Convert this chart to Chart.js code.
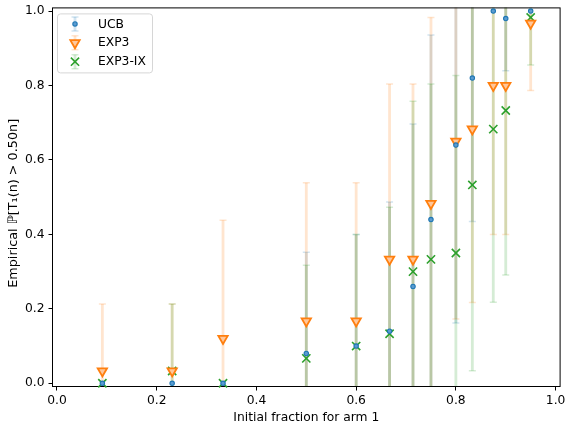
<!DOCTYPE html>
<html>
<head>
<meta charset="utf-8">
<script src="https://cdn.jsdelivr.net/npm/chart.js"></script>
<style>
  body { margin: 0; background: #fff; }
</style>
</head>
<body>
<canvas id="grafico" width="568" height="426"></canvas>
<script>
// initial fraction for arm 1 (x positions)
const fracoes = [0.091, 0.231, 0.333, 0.5, 0.6, 0.667, 0.714, 0.75, 0.8, 0.833, 0.875, 0.9, 0.95];

// empirical probability per algorithm, with error bar half-widths
const ucb =      [0, 0, 0, 0.08, 0.10, 0.14, 0.26, 0.44, 0.64, 0.82, 1.0, 0.98, 1.0];
const ucbErr =   [0, 0, 0, 0.272, 0.30, 0.347, 0.437, 0.496, 0.478, 0.385, 0, 0.14, 0];
const exp3 =     [0.033, 0.033, 0.12, 0.167, 0.167, 0.333, 0.333, 0.483, 0.65, 0.683, 0.8, 0.8, 0.967];
const exp3Err =  [0.18, 0.18, 0.318, 0.372, 0.372, 0.471, 0.471, 0.5, 0.477, 0.466, 0.4, 0.4, 0.18];
const exp3ix =   [0, 0.033, 0, 0.067, 0.1, 0.133, 0.3, 0.333, 0.35, 0.533, 0.683, 0.733, 0.983];
const exp3ixErr = [0, 0.18, 0, 0.25, 0.3, 0.34, 0.458, 0.471, 0.477, 0.499, 0.465, 0.442, 0.128];

const xTicks = [0, 0.2, 0.4, 0.6, 0.8, 1.0];
const yTicks = [0, 0.2, 0.4, 0.6, 0.8, 1.0];

const fonte = { family: 'DejaVu Sans', size: 12.3 };

function pontos(valores) {
  return fracoes.map((x, i) => ({ x: x, y: valores[i] }));
}

// draws the vertical error bars + the axes frame
const barrasErro = {
  id: 'barrasErro',
  beforeDatasetsDraw(chart) {
    const { ctx, chartArea: a, scales: { x, y } } = chart;
    ctx.save();
    ctx.beginPath();
    ctx.rect(a.left, a.top, a.right - a.left, a.bottom - a.top);
    ctx.clip();
    chart.data.datasets.forEach(ds => {
      ctx.strokeStyle = ds.corBarra;
      ds.data.forEach((p, i) => {
        const e = ds.erro[i];
        if (!e) return;
        const px = x.getPixelForValue(p.x);
        const topo = y.getPixelForValue(p.y + e);
        const base = y.getPixelForValue(p.y - e);
        ctx.lineWidth = 2.8;
        ctx.beginPath();
        ctx.moveTo(px, topo);
        ctx.lineTo(px, base);
        ctx.stroke();
        ctx.lineWidth = 1.5;
        ctx.beginPath();
        ctx.moveTo(px - 3.5, topo); ctx.lineTo(px + 3.5, topo);
        ctx.moveTo(px - 3.5, base); ctx.lineTo(px + 3.5, base);
        ctx.stroke();
      });
    });
    ctx.restore();

    ctx.save();
    ctx.strokeStyle = '#000';
    ctx.lineWidth = 1;
    ctx.strokeRect(a.left + 0.5, a.top + 0.5, a.right - a.left - 1, a.bottom - a.top - 1);
    ctx.restore();
  }
};

// legend box in the upper left corner of the plot
const legenda = {
  id: 'legenda',
  afterDatasetsDraw(chart) {
    const { ctx, chartArea: a } = chart;
    const bx = a.left + 5, by = a.top + 6, bw = 95, bh = 59;
    ctx.save();
    ctx.beginPath();
    ctx.roundRect(bx + 0.5, by + 0.5, bw, bh, 3);
    ctx.fillStyle = 'rgba(255,255,255,0.8)';
    ctx.fill();
    ctx.strokeStyle = '#d6d6d6';
    ctx.lineWidth = 1;
    ctx.stroke();

    chart.data.datasets.forEach((ds, i) => {
      const cy = by + 10.5 + i * 18.9;
      const cx = bx + 18;
      ctx.strokeStyle = ds.corBarra;
      ctx.lineWidth = 2.8;
      ctx.beginPath();
      ctx.moveTo(cx, cy - 7); ctx.lineTo(cx, cy + 7);
      ctx.stroke();
      ctx.lineWidth = 1.5;
      ctx.beginPath();
      ctx.moveTo(cx - 3.5, cy - 7); ctx.lineTo(cx + 3.5, cy - 7);
      ctx.moveTo(cx - 3.5, cy + 7); ctx.lineTo(cx + 3.5, cy + 7);
      ctx.stroke();

      ctx.fillStyle = ds.pointBackgroundColor;
      ctx.strokeStyle = ds.pointBorderColor;
      ctx.lineWidth = ds.pointBorderWidth;
      Chart.helpers.drawPoint(ctx, {
        pointStyle: ds.pointStyle,
        rotation: ds.pointRotation || 0,
        radius: ds.pointRadius,
        borderWidth: ds.pointBorderWidth
      }, cx, cy);

      ctx.fillStyle = '#000';
      ctx.font = `${fonte.size}px ${fonte.family}`;
      ctx.textBaseline = 'middle';
      ctx.fillText(ds.label, bx + 41, cy + 0.5);
    });
    ctx.restore();
  }
};

new Chart(document.getElementById('grafico'), {
  type: 'scatter',
  data: {
    datasets: [
      {
        label: 'UCB',
        data: pontos(ucb),
        erro: ucbErr,
        corBarra: 'rgba(31,119,180,0.2)',
        pointStyle: 'circle',
        pointRadius: 2.2,
        pointBackgroundColor: '#5b9bd0',
        pointBorderColor: '#1f77b4',
        pointBorderWidth: 1.1,
        clip: false
      },
      {
        label: 'EXP3',
        data: pontos(exp3),
        erro: exp3Err,
        corBarra: 'rgba(255,127,14,0.2)',
        pointStyle: 'triangle',
        pointRotation: 180,
        pointRadius: 5.4,
        pointBackgroundColor: '#ffc79a',
        pointBorderColor: '#ff7f0e',
        pointBorderWidth: 1.8,
        clip: false
      },
      {
        label: 'EXP3-IX',
        data: pontos(exp3ix),
        erro: exp3ixErr,
        corBarra: 'rgba(44,160,44,0.2)',
        pointStyle: 'crossRot',
        pointRadius: 5.8,
        pointBackgroundColor: '#2ca02c',
        pointBorderColor: '#2ca02c',
        pointBorderWidth: 1.6,
        clip: false
      }
    ]
  },
  options: {
    responsive: false,
    animation: false,
    events: [],
    layout: { padding: { top: 2, right: 0, left: 0, bottom: 0 } },
    plugins: {
      legend: { display: false },
      tooltip: { enabled: false }
    },
    scales: {
      x: {
        type: 'linear',
        min: -0.01,
        max: 1.01,
        afterBuildTicks: s => { s.ticks = xTicks.map(v => ({ value: v })); },
        afterFit: s => { s.height = 39; s.paddingRight = 5; s.paddingLeft = 0; },
        ticks: {
          callback: v => v.toFixed(1),
          color: '#000',
          font: fonte,
          padding: 3,
          maxRotation: 0,
          autoSkip: false
        },
        grid: { drawOnChartArea: false, tickLength: 3.5, color: '#000', lineWidth: 1 },
        border: { display: false },
        title: {
          display: true,
          text: 'Initial fraction for arm 1',
          color: '#000',
          font: fonte,
          padding: { top: 0, bottom: 1 }
        }
      },
      y: {
        type: 'linear',
        min: -0.01,
        max: 1.01,
        afterBuildTicks: s => { s.ticks = yTicks.map(v => ({ value: v })); },
        afterFit: s => { s.width = 52; s.paddingTop = 0; s.paddingBottom = 0; },
        ticks: {
          callback: v => v.toFixed(1),
          color: '#000',
          font: fonte,
          padding: 4
        },
        grid: { drawOnChartArea: false, tickLength: 3.5, color: '#000', lineWidth: 1 },
        border: { display: false },
        title: {
          display: true,
          text: 'Empirical ℙ[T₁(n) > 0.50n]   ',
          color: '#000',
          font: { family: 'DejaVu Sans', size: 12.8 },
          padding: { top: 6, bottom: 0 }
        }
      }
    }
  },
  plugins: [barrasErro, legenda]
});
</script>
</body>
</html>
